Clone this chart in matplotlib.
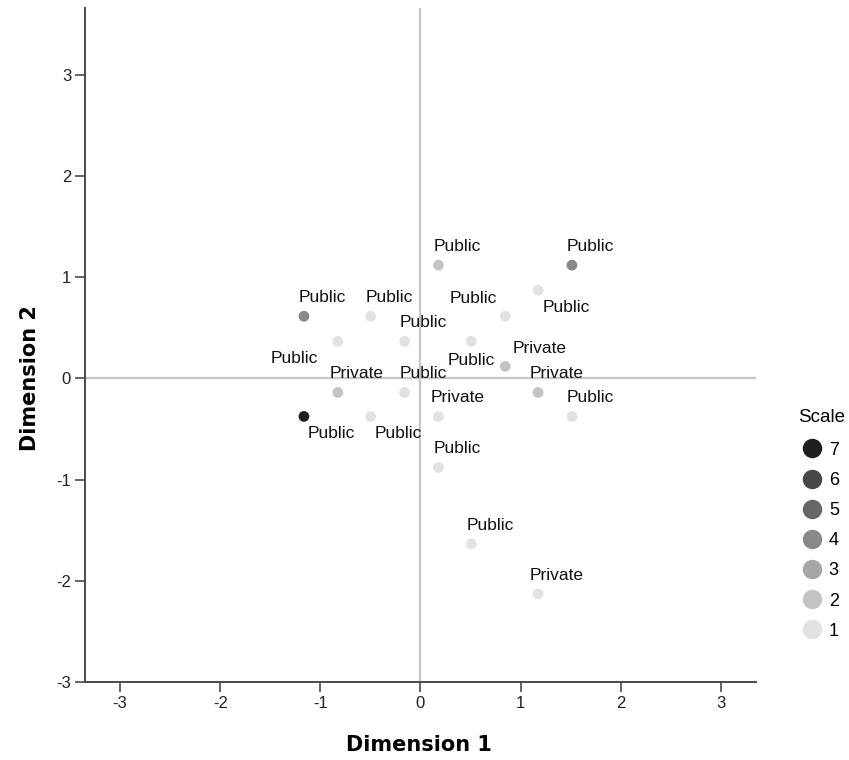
import matplotlib
matplotlib.use("Agg")
import matplotlib.pyplot as plt
from matplotlib.lines import Line2D
from matplotlib.transforms import offset_copy

# ---- data ----
dim1 = [-1.164, -1.164, -0.826, -0.826, -0.498, -0.498, -0.159, -0.159,
        0.179, 0.179, 0.179, 0.507, 0.507, 0.846, 0.846, 1.174, 1.174,
        1.174, 1.512, 1.512]
dim2 = [0.614, -0.376, 0.366, -0.139, 0.614, -0.376, 0.366, -0.139,
        1.119, -0.376, -0.881, 0.366, -1.634, 0.614, 0.119, 0.871, -0.139,
        -2.129, 1.119, -0.376]
scale = [4, 7, 1, 2, 1, 1, 1, 1, 2, 1, 1, 1, 1, 1, 2, 1, 2, 1, 4, 1]
labels = ["Public", "Public", "Public", "Private", "Public", "Public",
          "Public", "Public", "Public", "Private", "Public", "Public",
          "Public", "Public", "Private", "Public", "Private", "Private",
          "Public", "Public"]
placement = ["a", "br", "bl", "a", "a", "br", "a", "a", "a", "a", "a", "b",
             "a", "al", "ar", "br", "a", "a", "a", "a"]
scale_levels = [7, 6, 5, 4, 3, 2, 1]
ticks = [-3, -2, -1, 0, 1, 2, 3]

# ---- styles ----
scale_colors = {1: "#e2e2e2", 2: "#c4c4c4", 3: "#a6a6a6", 4: "#888888",
                5: "#676767", 6: "#474747", 7: "#1e1e1e"}
# label offsets in points (dx, dy), upward positive
offsets = {"a": (13.5, 13.5), "br": (20, -12.5), "bl": (-31, -12.5),
           "al": (-23, 12.5), "b": (0, -14), "ar": (24.5, 13)}

plt.rcParams["font.family"] = ["Liberation Sans", "DejaVu Sans"]

fig = plt.figure(figsize=(8.49, 7.6), dpi=100)
ax = fig.add_axes([85 / 849, 78 / 760, 671 / 849, 674 / 760])
ax.set_xlim(-3.35, 3.35)
ax.set_ylim(-3.0, 3.66)

ax.axhline(0, color="#c6c6c6", lw=1.6, zorder=1)
ax.axvline(0, color="#c6c6c6", lw=1.6, zorder=1)

ax.scatter(dim1, dim2, s=60, c=[scale_colors[v] for v in scale],
           edgecolors="none", zorder=3)

for x, y, t, p in zip(dim1, dim2, labels, placement):
    dx, dy = offsets[p]
    tr = offset_copy(ax.transData, fig=fig, x=dx, y=dy, units="points")
    ax.text(x, y, t, transform=tr, ha="center", va="center", fontsize=12.5,
            color="#111111", zorder=4)

for side in ("top", "right"):
    ax.spines[side].set_visible(False)
for side in ("left", "bottom"):
    ax.spines[side].set_color("#4a4a4a")
    ax.spines[side].set_linewidth(1.4)

ax.set_xticks(ticks)
ax.set_yticks(ticks)
ax.set_xticklabels([str(t) for t in ticks])
ax.set_yticklabels([str(t) for t in ticks])
ax.tick_params(direction="out", length=7, width=1.2, color="#4a4a4a",
               labelsize=12, labelcolor="#222222", pad=3)

fig.text(419 / 849, 1 - 745 / 760, "Dimension 1", ha="center", va="center",
         fontsize=15, fontweight="bold", family="DejaVu Sans")
fig.text(30 / 849, 1 - 378 / 760, "Dimension 2", ha="center", va="center",
         rotation=90, fontsize=15, fontweight="bold", family="DejaVu Sans")

handles = [Line2D([], [], ls="none", marker="o", markersize=14,
                  markerfacecolor=scale_colors[v], markeredgecolor="none")
           for v in scale_levels]
leg = fig.legend(handles, [str(v) for v in scale_levels],
                 loc="upper left", bbox_to_anchor=(790 / 849, 1 - 429 / 760),
                 frameon=False, fontsize=13,
                 handlelength=1.0, handletextpad=0.45, labelspacing=0.73,
                 borderpad=0.2)
fig.text(822 / 849, 1 - 417 / 760, "Scale", ha="center", va="center",
         fontsize=13.5)

fig.savefig("out.png", dpi=100)
